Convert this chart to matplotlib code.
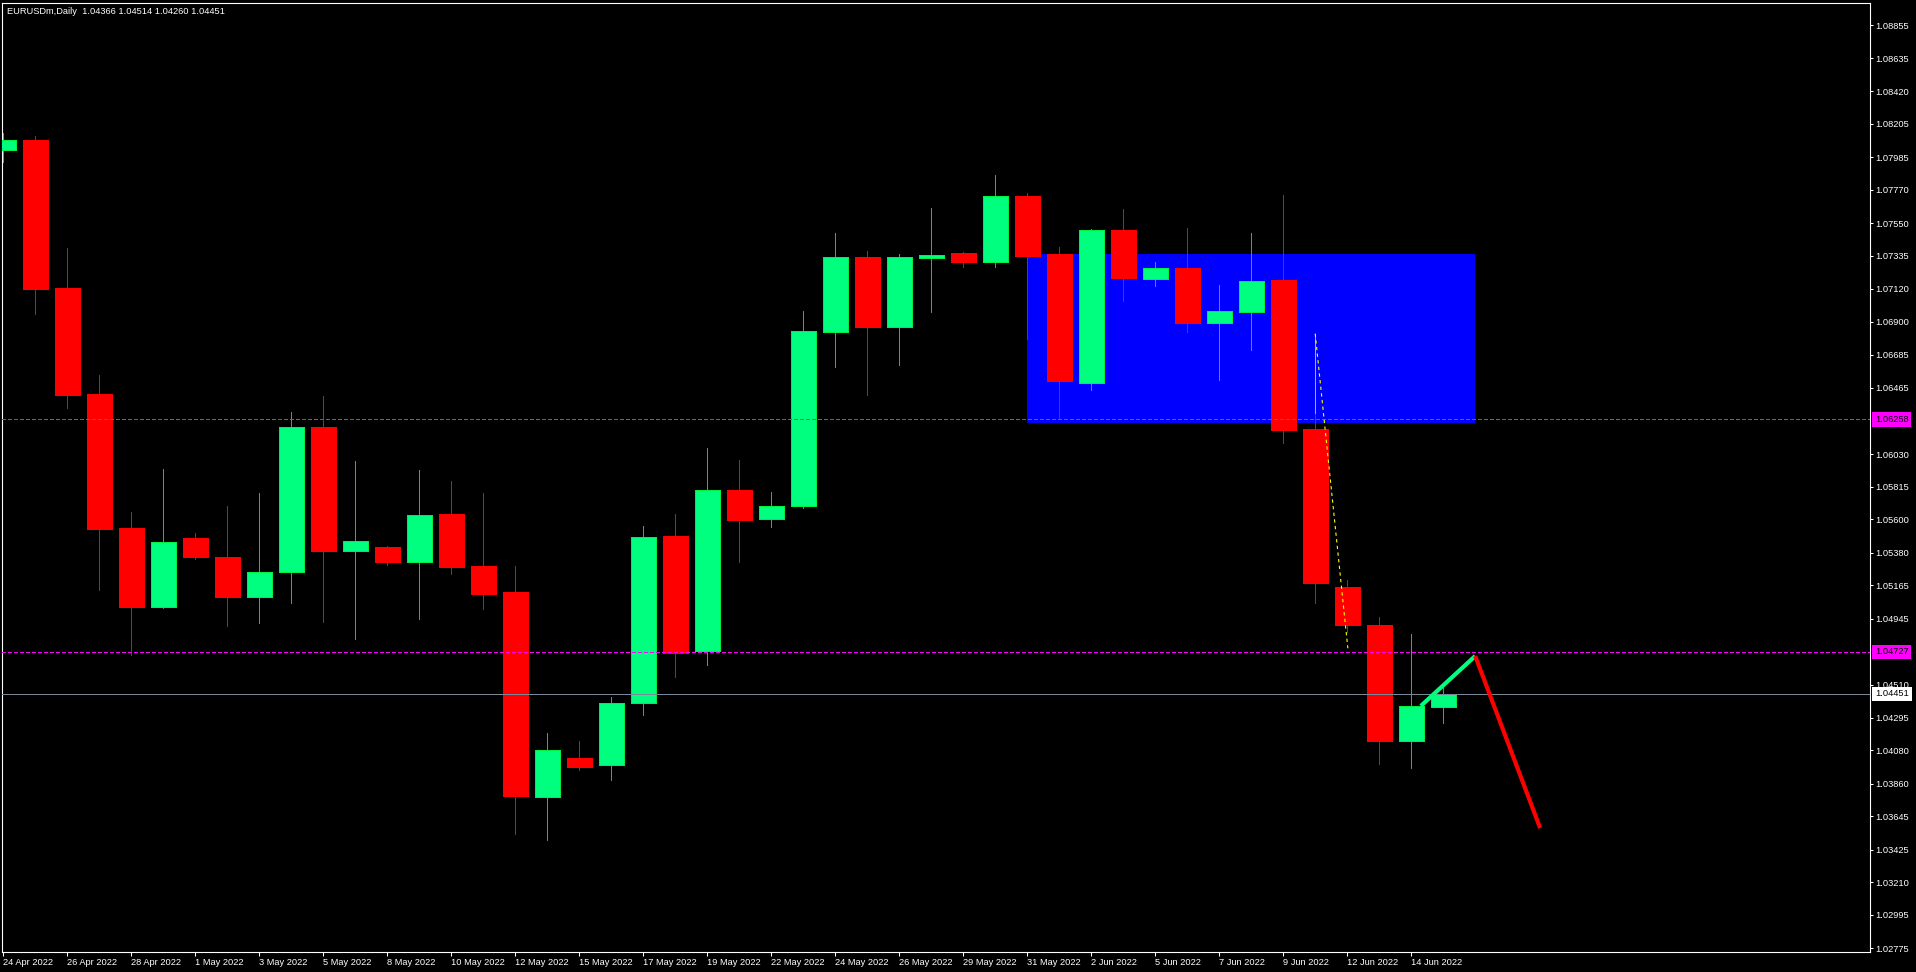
import numpy as np
import matplotlib
matplotlib.use('Agg')
import matplotlib.pyplot as plt
from matplotlib.patches import Rectangle

plt.rcParams['font.family'] = ['Liberation Sans', 'DejaVu Sans']

# EURUSDm daily bars
dates = ['24 Apr 2022', '25 Apr 2022', '26 Apr 2022', '27 Apr 2022', '28 Apr 2022', '29 Apr 2022',
         '1 May 2022', '2 May 2022', '3 May 2022', '4 May 2022', '5 May 2022', '6 May 2022',
         '8 May 2022', '9 May 2022', '10 May 2022', '11 May 2022', '12 May 2022', '13 May 2022',
         '15 May 2022', '16 May 2022', '17 May 2022', '18 May 2022', '19 May 2022', '20 May 2022',
         '22 May 2022', '23 May 2022', '24 May 2022', '25 May 2022', '26 May 2022', '27 May 2022',
         '29 May 2022', '30 May 2022', '31 May 2022', '1 Jun 2022', '2 Jun 2022', '3 Jun 2022',
         '5 Jun 2022', '6 Jun 2022', '7 Jun 2022', '8 Jun 2022', '9 Jun 2022', '10 Jun 2022',
         '12 Jun 2022', '13 Jun 2022', '14 Jun 2022', '15 Jun 2022']

opens = [1.08035, 1.08098, 1.07125, 1.06426, 1.05543, 1.05024,
         1.05478, 1.05351, 1.05090, 1.05250, 1.06207, 1.05393,
         1.05417, 1.05320, 1.05636, 1.05292, 1.05121, 1.03773,
         1.04028, 1.03980, 1.04388, 1.05490, 1.04730, 1.05792,
         1.05604, 1.05690, 1.06835, 1.07326, 1.06864, 1.07320,
         1.07354, 1.07292, 1.07728, 1.07346, 1.06500, 1.07505,
         1.07180, 1.07255, 1.06895, 1.06968, 1.07177, 1.06193,
         1.05154, 1.04903, 1.04143, 1.04366]
highs = [1.08147, 1.08123, 1.07387, 1.06550, 1.05647, 1.05932,
         1.05511, 1.05687, 1.05774, 1.06306, 1.06414, 1.05983,
         1.05426, 1.05925, 1.05852, 1.05774, 1.05293, 1.04194,
         1.04140, 1.04431, 1.05556, 1.05636, 1.06070, 1.05990,
         1.05781, 1.06972, 1.07486, 1.07366, 1.07346, 1.07649,
         1.07360, 1.07869, 1.07749, 1.07392, 1.07510, 1.07642,
         1.07296, 1.07518, 1.07142, 1.07486, 1.07736, 1.06301,
         1.05202, 1.04957, 1.04844, 1.04514]
lows = [1.07954, 1.06953, 1.06334, 1.05135, 1.04709, 1.05017,
        1.05339, 1.04897, 1.04918, 1.05050, 1.04921, 1.04814,
        1.05302, 1.04946, 1.05243, 1.05012, 1.03531, 1.03486,
        1.03951, 1.03882, 1.04311, 1.04562, 1.04642, 1.05319,
        1.05550, 1.05676, 1.06604, 1.06418, 1.06615, 1.06966,
        1.07260, 1.07260, 1.06787, 1.06266, 1.06449, 1.07038,
        1.07137, 1.06836, 1.06519, 1.06712, 1.06104, 1.05048,
        1.04860, 1.03992, 1.03965, 1.04260]
closes = [1.08098, 1.07117, 1.06419, 1.05537, 1.05024, 1.05450,
          1.05349, 1.05090, 1.05252, 1.06207, 1.05391, 1.05455,
          1.05318, 1.05628, 1.05287, 1.05109, 1.03779, 1.04079,
          1.03971, 1.04390, 1.05484, 1.04722, 1.05792, 1.05598,
          1.05687, 1.06841, 1.07326, 1.06869, 1.07326, 1.07340,
          1.07292, 1.07729, 1.07336, 1.06508, 1.07502, 1.07190,
          1.07255, 1.06895, 1.06973, 1.07169, 1.06185, 1.05183,
          1.04901, 1.04143, 1.04371, 1.04451]

price_ticks = [1.08855, 1.08635, 1.08420, 1.08205, 1.07985, 1.07770, 1.07550, 1.07335,
               1.07120, 1.06900, 1.06685, 1.06465, 1.06030, 1.05815, 1.05600, 1.05380,
               1.05165, 1.04945, 1.04510, 1.04295, 1.04080, 1.03860, 1.03645, 1.03425,
               1.03210, 1.02995, 1.02775]

levels = [1.06258, 1.04727]
bid = 1.04451

zone_x = [32, 46]
zone_y = [1.06237, 1.07347]
dotted_x = [41, 42.02]
dotted_y = [1.06823, 1.04751]
marker_x = [41, 41]
marker_y = [1.06823, 1.06301]
up_x = [44.3, 46]
up_y = [1.04371, 1.04700]
down_x = [46, 48.03]
down_y = [1.04700, 1.03567]

title = 'EURUSDm,Daily  1.04366 1.04514 1.04260 1.04451'

W, H = 1916, 972
fig = plt.figure(figsize=(W / 100, H / 100), dpi=100, facecolor='black')
ax = fig.add_axes([2 / W, 1 - 952 / H, 1868 / W, 949 / H])
ax.set_facecolor('black')
ax.set_xlim(-0.0375, 58.3375)
ax.set_ylim(1.02751, 1.09000)

# zone rectangle behind the candles
ax.add_patch(Rectangle((zone_x[0], zone_y[0]), zone_x[1] - zone_x[0], zone_y[1] - zone_y[0],
                       facecolor='#0000FF', edgecolor='none', zorder=1))

x = np.arange(len(opens))
o = np.array(opens)
c = np.array(closes)
up = c >= o
body_col = np.where(up, '#00FF7F', '#FF0000')
edge_col = np.where(up, '#00F040', '#FF0000')
wick_col = np.where(up, '#00D800', '#FF0000')

ax.vlines(x, lows, highs, colors=wick_col, linewidth=0.7, zorder=2, antialiased=False)
ax.bar(x, np.abs(c - o), bottom=np.minimum(o, c), width=0.78, color=body_col,
       edgecolor=edge_col, linewidth=0.6, zorder=3, antialiased=False)

# horizontal levels
for lv in levels:
    ax.axhline(lv, color='#FF00FF', linewidth=0.7, dashes=(4, 3), zorder=4, antialiased=False)
ax.axhline(bid, color='#778899', linewidth=0.7, zorder=4, antialiased=False)

# drawn objects
ax.plot(marker_x, marker_y, color='#40E0D0', linewidth=0.7, zorder=5, antialiased=False)
ax.plot(dotted_x, dotted_y, color='#FFFF00', linewidth=0.8, dashes=(3, 3), zorder=5)
ax.plot(up_x, up_y, color='#00FF7F', linewidth=3, solid_capstyle='butt', zorder=5)
ax.plot(down_x, down_y, color='#FF0000', linewidth=3, solid_capstyle='butt', zorder=5)

# axes styling
for s in ax.spines.values():
    s.set_color('white')
    s.set_linewidth(0.8)

ax.yaxis.tick_right()
ax.set_yticks(price_ticks)
ax.set_yticklabels([f'{p:.5f}' for p in price_ticks])
ax.tick_params(axis='y', colors='white', labelsize=6.7, length=2.4, width=0.75, pad=1.5, direction='out')

ax.set_xticks(x[::2])
ax.set_xticklabels(dates[::2])
ax.tick_params(axis='x', colors='white', labelsize=6.7, length=3, width=0.75, pad=1, direction='out')
for lbl in ax.get_xticklabels():
    lbl.set_ha('left')

ytr = ax.get_yaxis_transform()
for lv in levels:
    ax.text(1.0 + 5 / 1868, lv, f'{lv:.5f}', transform=ytr, ha='left', va='center',
            fontsize=6.7, color='black', zorder=10, clip_on=False,
            bbox=dict(boxstyle='square,pad=0.3', facecolor='#FF00FF', edgecolor='none'))
ax.text(1.0 + 5 / 1868, bid, f'{bid:.5f}', transform=ytr, ha='left', va='center',
        fontsize=6.7, color='black', zorder=10, clip_on=False,
        bbox=dict(boxstyle='square,pad=0.3', facecolor='white', edgecolor='none'))

fig.text(7 / W, 1 - 11 / H, title, color='white', fontsize=6.7, ha='left', va='center')

fig.savefig('out.png', dpi=100, facecolor='black')
